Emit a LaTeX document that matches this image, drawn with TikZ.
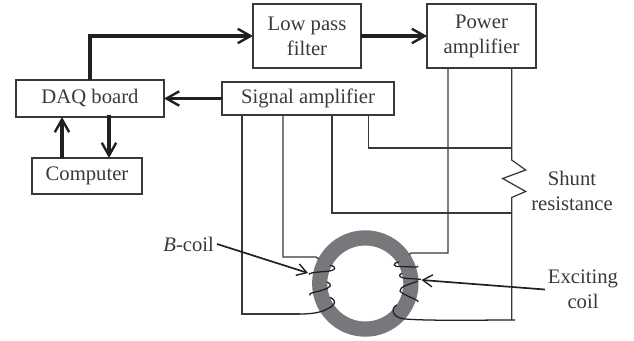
\documentclass[tikz,border=0pt]{standalone}
\usepackage{fontspec}
\setmainfont{Liberation Serif}
\definecolor{ink}{HTML}{231F20}
\definecolor{wire}{HTML}{3A3839}
\definecolor{coregray}{HTML}{77787B}
\usetikzlibrary{arrows.meta,positioning}

\begin{document}
\begin{tikzpicture}[x=0.025cm, y=-0.025cm,
  blk/.style={rectangle, draw=wire, line width=0.9pt, inner sep=0pt, outer sep=0pt,
              align=center, font=\fontsize{14.7}{17.8}\selectfont, text=wire},
  lbl/.style={align=center, font=\fontsize{14.7}{17.8}\selectfont, text=wire, inner sep=2pt},
  sig/.style={-{Straight Barb[length=3.2mm,width=3.6mm,line width=1.7pt]}, line width=2.6pt, ink},
  lead/.style={-{Straight Barb[length=2.4mm,width=3mm,line width=1pt]}, line width=1.2pt, ink},
  conn/.style={line width=0.9pt, wire},
  turn/.style={line width=0.9pt, ink},
  core/.style={circle, draw=coregray, line width=0.38cm, minimum size=2.28cm, inner sep=0pt, outer sep=0pt},
]
\useasboundingbox (0,0) rectangle (634,341);

\node[blk, minimum width=2.7cm, minimum height=1.6cm] (lpf) at (307,36) {Low pass\\filter};
\node[blk, minimum width=2.72cm, minimum height=1.6cm] (pwr) at (481.5,36) {Power\\amplifier};
\node[blk, minimum width=3.7cm, minimum height=0.93cm] (daq) at (90,98.5) {DAQ board};
\node[blk, minimum width=4.3cm, minimum height=0.83cm] (amp) at (308,98.5) {Signal amplifier};
\node[blk, minimum width=2.75cm, minimum height=0.9cm] (comp) at (87,176) {Computer};

\node[core] (ring) at (365.3,283.5) {};

% thick signal path
\coordinate (cup) at (62,117);
\coordinate (cdn) at (109,115);
\draw[sig] (daq.north) |- (lpf.west);
\draw[sig] (lpf.east) -- (pwr.west);
\draw[sig] (amp.west) -- (daq.east);
\draw[sig] (comp.north-|cup) -- (cup);
\draw[sig] (cdn) -- (comp.north-|cdn);

% shunt
\coordinate (rtop) at (511.7,160);
\coordinate (rbot) at (511.7,197.5);
\coordinate (wend) at (515,320);
\coordinate (pl) at (448,68);
\coordinate (sa) at (242,115);
\coordinate (sb) at (283,115);
\coordinate (sc) at (332,115);
\coordinate (sd) at (368.5,115);
\draw[conn] (rtop|-pwr.south) -- (rtop) -- (525.7,170) -- (502.7,178.5) -- (525.7,191.5) -- (rbot) -- (rbot|-wend);
\draw[conn] (sd) |- (rtop|-0,148);
\draw[conn] (sc) |- (rbot|-0,213);

% leads to the coils
\draw[conn] (pl) -- (448,253) -- (411,253) -- (409,255);
\draw[conn] (sb) -- (283,257) -- (316,257) -- (319,259);
\draw[conn] (sa) -- (242,314) -- (300,314);

% B-coil turns
\draw[turn] (330,265.5) .. controls (337,266) and (337,271) .. (325,271.5) .. controls (317,272) and (308,273) .. (309,274.5);
\draw[turn] (327,282) .. controls (333,285) and (331,287) .. (323,290) .. controls (317,292) and (307,293) .. (310,295.5);
\draw[turn] (330,297.5) .. controls (337,300) and (336,305) .. (327,309) .. controls (320,313) and (310,314) .. (300,314);

% exciting coil turns
\draw[turn] (399,262) .. controls (392,263) and (393,267) .. (400,266.5) .. controls (408,266.5) and (420,268) .. (418,266);
\draw[turn] (402,273) .. controls (397,276) and (400,278) .. (408,278.5) .. controls (414,279) and (420,279) .. (421,279.5);
\draw[turn] (418,281) .. controls (410,284) and (399,287) .. (400,291) .. controls (402,295) and (420,300) .. (418,302);
\draw[turn] (397,305) .. controls (390,308) and (392,318) .. (405,319) .. controls (430,321) and (480,320) .. (wend);

% callouts
\node[lbl, anchor=east] (bcoil) at (217,244) {\textit{B}-coil};
\node[lbl] (shunt) at (572,191) {Shunt\\resistance};
\node[lbl] (exc) at (583,289.5) {Exciting\\coil};
\coordinate (btip) at (308,273);
\coordinate (etip) at (421.5,280);
\draw[lead] (bcoil.east) -- (btip);
\draw[lead] (exc.west) -- (etip);
\end{tikzpicture}
\end{document}
